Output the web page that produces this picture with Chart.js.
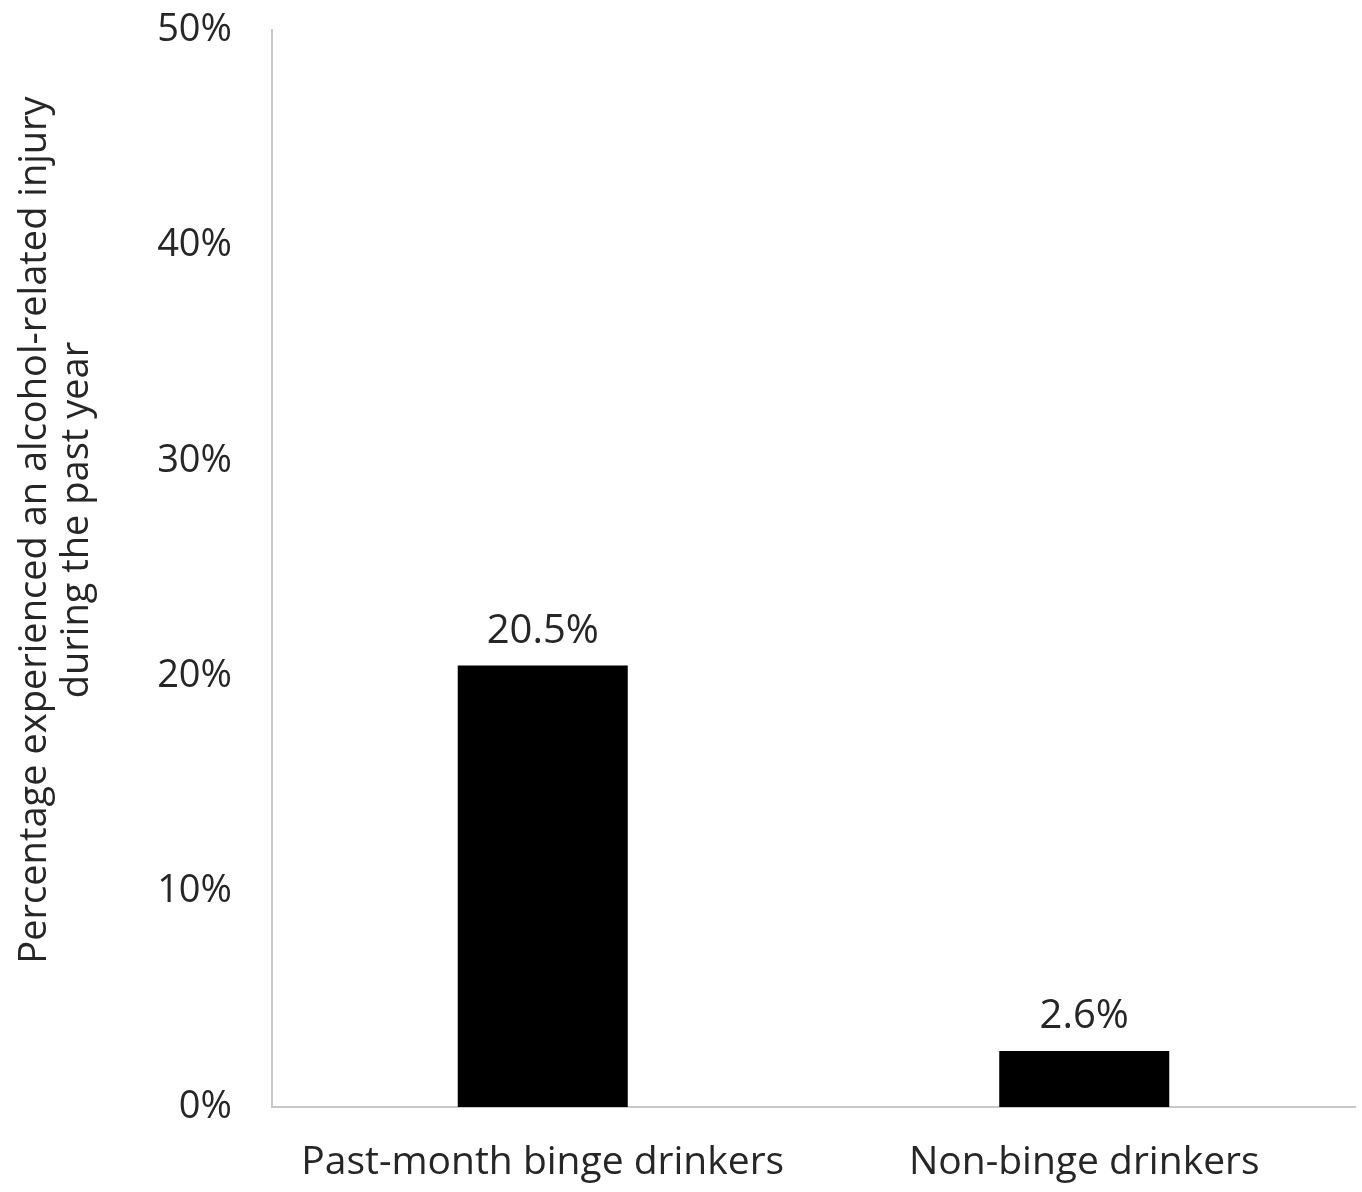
<!DOCTYPE html>
<html>
<head>
<meta charset="utf-8">
<script src="https://cdn.jsdelivr.net/npm/chart.js@4"></script>
<style>
  html, body { margin: 0; padding: 0; background: #fff; }
  #wrap { width: 1362px; height: 1192px; position: relative; }
</style>
</head>
<body>
<div id="wrap"><canvas id="c" width="1362" height="1192"></canvas></div>
<script>
const categories = ['Past-month binge drinkers', 'Non-binge drinkers'];
const injuryPct = [20.5, 2.6];
const yTicks = [0, 10, 20, 30, 40, 50];
const yTitle = ['Percentage experienced an alcohol-related injury', 'during the past year'];

const FONT = "'Open Sans', 'Noto Sans', sans-serif";
const TEXT = '#262626';

// Percent value printed above each bar
const valueLabels = {
  id: 'valueLabels',
  afterDatasetsDraw(chart) {
    const ctx = chart.ctx;
    const meta = chart.getDatasetMeta(0);
    ctx.save();
    ctx.font = '40px ' + FONT;
    ctx.fillStyle = TEXT;
    ctx.textAlign = 'center';
    ctx.textBaseline = 'bottom';
    meta.data.forEach((bar, i) => {
      ctx.fillText(injuryPct[i].toFixed(1) + '%', bar.x, bar.y - 14);
    });
    ctx.restore();
  }
};

// Two-line rotated y-axis title
const yAxisTitle = {
  id: 'yAxisTitle',
  afterDraw(chart) {
    const ctx = chart.ctx;
    ctx.save();
    ctx.font = '38px ' + FONT;
    ctx.fillStyle = TEXT;
    ctx.textAlign = 'center';
    ctx.textBaseline = 'middle';
    ctx.translate(0, 530);
    ctx.rotate(-Math.PI / 2);
    ctx.fillText(yTitle[0], 0, 35);
    ctx.fillText(yTitle[1], 10, 77);
    ctx.restore();
  }
};

new Chart(document.getElementById('c'), {
  type: 'bar',
  data: {
    labels: categories,
    datasets: [{
      data: injuryPct,
      backgroundColor: '#000000',
      borderWidth: 0,
      categoryPercentage: 1,
      barPercentage: 0.314
    }]
  },
  options: {
    responsive: false,
    animation: false,
    layout: { padding: { top: 30, right: 7, bottom: 0, left: 0 } },
    plugins: { legend: { display: false }, tooltip: { enabled: false } },
    scales: {
      x: {
        grid: { display: false, drawTicks: false },
        border: { color: '#c8c8c8', width: 2 },
        ticks: { color: TEXT, font: { family: FONT, size: 39 }, padding: 32, maxRotation: 0 },
        afterFit(s) { s.height = 85; s.paddingLeft = 0; s.paddingRight = 0; }
      },
      y: {
        min: 0, max: 50,
        afterBuildTicks(s) { s.ticks = yTicks.map(v => ({ value: v })); },
        grid: { display: false, drawTicks: false },
        border: { color: '#c8c8c8', width: 2 },
        ticks: {
          color: TEXT,
          font: { family: FONT, size: 38 },
          padding: 40,
          callback: v => v + '%'
        },
        afterFit(s) { s.width = 272; s.paddingTop = 0; s.paddingBottom = 0; }
      }
    }
  },
  plugins: [valueLabels, yAxisTitle]
});
</script>
</body>
</html>
